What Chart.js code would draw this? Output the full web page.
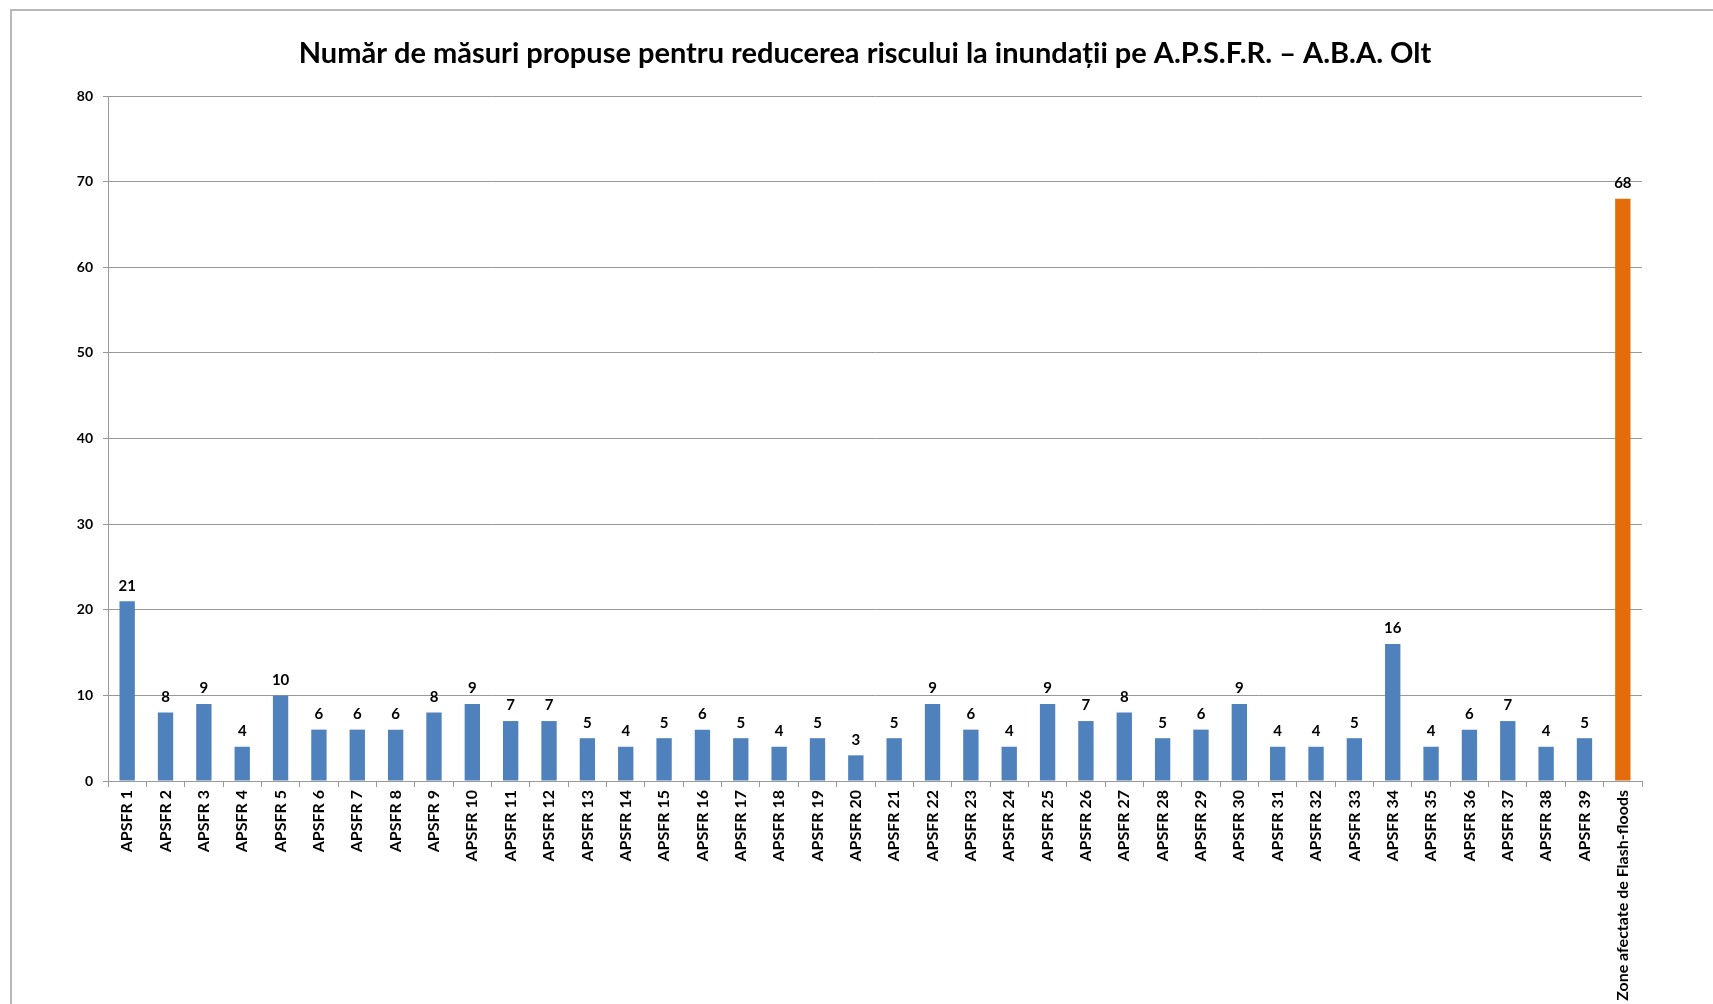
<!DOCTYPE html>
<html>
<head>
<meta charset="utf-8">
<script src="https://cdn.jsdelivr.net/npm/chart.js@4/dist/chart.umd.min.js"></script>
<style>
  html, body { margin: 0; padding: 0; background: #fff; }
  #wrap { position: relative; width: 1713px; height: 1004px; }
  #frame {
    position: absolute; left: 10px; top: 9px; right: 0; bottom: 0;
    border-left: 2px solid #b8b8b8; border-top: 2px solid #b8b8b8;
    pointer-events: none;
  }
</style>
</head>
<body>
<div id="wrap">
  <canvas id="chart" width="1713" height="1004"></canvas>
  <div id="frame"></div>
</div>
<script>
// categories and values
const areaLabels = [];
for (let i = 1; i <= 39; i++) areaLabels.push('APSFR ' + i);
areaLabels.push('Zone afectate de Flash-floods');

const measureCounts = [21, 8, 9, 4, 10, 6, 6, 6, 8, 9, 7, 7, 5, 4, 5, 6, 5, 4, 5, 3,
  5, 9, 6, 4, 9, 7, 8, 5, 6, 9, 4, 4, 5, 16, 4, 6, 7, 4, 5, 68];

const yTicks = [0, 10, 20, 30, 40, 50, 60, 70, 80];

const chartTitle = 'Număr de măsuri propuse pentru reducerea riscului la inundații pe A.P.S.F.R. – A.B.A. Olt';

const barColors = measureCounts.map((v, i) => i === measureCounts.length - 1 ? '#E46C0A' : '#4F81BD');

const FONT = 'Lato, "Open Sans", sans-serif';

// title sits a little left of the plot centre in the original, so draw it by hand
const titleText = {
  id: 'titleText',
  afterDraw(chart) {
    const ctx = chart.ctx;
    const cx = (chart.chartArea.left + chart.chartArea.right) / 2 - 10;
    ctx.save();
    ctx.font = 'bold 29px ' + FONT;
    ctx.fillStyle = '#000';
    ctx.textAlign = 'center';
    ctx.textBaseline = 'middle';
    ctx.fillText(chartTitle, cx, 54);
    ctx.restore();
  }
};

// value labels above the bars
const valueLabels = {
  id: 'valueLabels',
  afterDatasetsDraw(chart) {
    const ctx = chart.ctx;
    const meta = chart.getDatasetMeta(0);
    ctx.save();
    ctx.font = 'bold 15px ' + FONT;
    ctx.fillStyle = '#000';
    ctx.textAlign = 'center';
    ctx.textBaseline = 'bottom';
    meta.data.forEach((bar, i) => {
      ctx.fillText(measureCounts[i], bar.x, bar.y - 8);
    });
    ctx.restore();
  }
};

new Chart(document.getElementById('chart').getContext('2d'), {
  type: 'bar',
  data: {
    labels: areaLabels,
    datasets: [{
      data: measureCounts,
      backgroundColor: barColors,
      borderWidth: 0,
      barPercentage: 0.4,
      categoryPercentage: 1.0
    }]
  },
  options: {
    responsive: false,
    animation: false,
    layout: {
      padding: { left: 0, right: 71, top: 96, bottom: 0 }
    },
    plugins: {
      legend: { display: false },
      tooltip: { enabled: false },
      title: { display: false }
    },
    scales: {
      x: {
        offset: true,
        grid: {
          offset: true,
          drawOnChartArea: false,
          color: '#999',
          tickLength: 6
        },
        border: { color: '#999', width: 1 },
        ticks: {
          autoSkip: false,
          minRotation: 90,
          maxRotation: 90,
          padding: 3,
          color: '#000',
          font: { family: FONT, size: 16, weight: 'bold' }
        },
        afterFit(scale) { scale.height = 223; }
      },
      y: {
        min: 0,
        max: 80,
        afterBuildTicks(scale) { scale.ticks = yTicks.map(v => ({ value: v })); },
        grid: {
          color: '#999',
          tickLength: 5
        },
        border: { color: '#999', width: 1 },
        ticks: {
          padding: 10,
          color: '#000',
          font: { family: FONT, size: 14, weight: 'bold' }
        },
        afterFit(scale) { scale.width = 108; }
      }
    }
  },
  plugins: [valueLabels, titleText]
});
</script>
</body>
</html>
